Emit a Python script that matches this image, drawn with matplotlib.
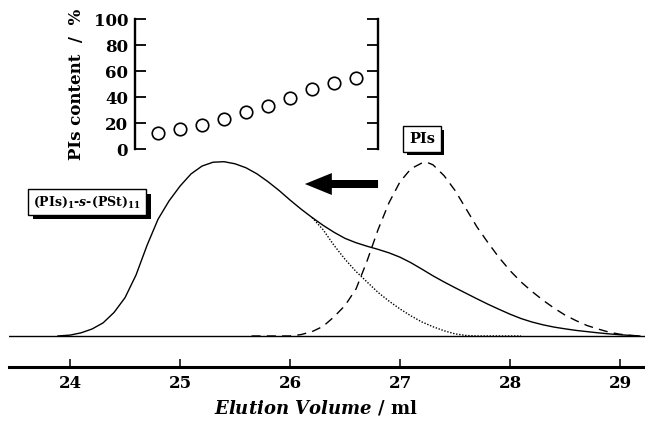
import matplotlib
matplotlib.use("Agg")
import matplotlib.pyplot as plt
import matplotlib.patheffects as pe
from matplotlib.patches import FancyArrow

plt.rcParams['font.family'] = ['DejaVu Serif']
plt.rcParams['font.weight'] = 'bold'
plt.rcParams['mathtext.fontset'] = 'custom'
plt.rcParams['mathtext.rm'] = 'DejaVu Serif:bold'
plt.rcParams['mathtext.bf'] = 'DejaVu Serif:bold'
plt.rcParams['mathtext.it'] = 'DejaVu Serif:italic:bold'

# GPC-Kurven (normiert)
x_solid = [23.89, 24.0, 24.1, 24.2, 24.3, 24.4, 24.5, 24.6, 24.7, 24.8, 24.9, 25.0, 25.1,
           25.2, 25.3, 25.4, 25.5, 25.6, 25.7, 25.8, 25.9, 26.0, 26.1, 26.2, 26.3, 26.4,
           26.5, 26.6, 26.7, 26.8, 26.9, 27.0, 27.1, 27.2, 27.3, 27.4, 27.5, 27.6, 27.7,
           27.8, 27.9, 28.0, 28.1, 28.2, 28.3, 28.4, 28.5, 28.6, 28.7, 28.8, 28.9, 29.0,
           29.1, 29.18]
y_solid = [0.0, 0.005, 0.018, 0.04, 0.075, 0.135, 0.22, 0.35, 0.52, 0.67, 0.775, 0.86, 0.93,
           0.975, 0.997, 1.0, 0.988, 0.965, 0.93, 0.885, 0.835, 0.78, 0.728, 0.68, 0.635, 0.595,
           0.56, 0.535, 0.515, 0.497, 0.477, 0.452, 0.42, 0.383, 0.345, 0.31, 0.277, 0.245, 0.213,
           0.182, 0.153, 0.125, 0.1, 0.08, 0.064, 0.051, 0.041, 0.032, 0.025, 0.018, 0.012, 0.007,
           0.003, 0.0]

x_dot = [26.2, 26.3, 26.4, 26.5, 26.6, 26.7, 26.8, 26.9, 27.0, 27.1, 27.2, 27.3, 27.4, 27.5,
         27.6, 27.7, 28.1]
y_dot = [0.68, 0.61, 0.52, 0.44, 0.37, 0.31, 0.25, 0.2, 0.155, 0.115, 0.08, 0.053, 0.03, 0.012,
         0.003, 0.0, 0.0]

x_dash = [25.65, 26.0, 26.1, 26.2, 26.3, 26.4, 26.5, 26.6, 26.7, 26.8, 26.9, 27.0, 27.1, 27.2,
          27.25, 27.3, 27.4, 27.5, 27.6, 27.7, 27.8, 27.9, 28.0, 28.1, 28.2, 28.3, 28.4, 28.5,
          28.6, 28.7, 28.8, 28.9, 29.0, 29.1, 29.18]
y_dash = [0.0, 0.0, 0.008, 0.025, 0.055, 0.11, 0.175, 0.27, 0.43, 0.61, 0.765, 0.885, 0.96, 0.993,
          0.995, 0.982, 0.92, 0.835, 0.73, 0.625, 0.535, 0.45, 0.375, 0.31, 0.255, 0.205, 0.16,
          0.12, 0.088, 0.06, 0.04, 0.022, 0.01, 0.003, 0.0]

# PIs-Anteil im Inset
x_content = [24.8, 25.0, 25.2, 25.4, 25.6, 25.8, 26.0, 26.2, 26.4, 26.6]
y_content = [12.1, 15.7, 18.8, 23.1, 28.8, 33.4, 39.6, 46.3, 50.7, 54.3]
content_ticks = [0, 20, 40, 60, 80, 100]
volume_ticks = [24, 25, 26, 27, 28, 29]

W, H = 645, 424
fig = plt.figure(figsize=(W / 100, H / 100), dpi=100)

# Hauptachse
ax = fig.add_axes([9 / W, (H - 367) / H, 1 - 9 / W, (367 - 140) / H])
ax.set_xlim(23.445, 29.227)
ax.set_ylim(-0.178, 1.1245)
ax.plot(x_solid, y_solid, color='black', lw=1.0)
ax.plot(x_dot, y_dot, color='black', lw=1.0, ls=(0, (1, 1.2)))
ax.plot(x_dash, y_dash, color='black', lw=1.0, ls=(0, (6.5, 4.5)))
ax.axhline(0, color='black', lw=1.0)
for s in ['left', 'right', 'top']:
    ax.spines[s].set_visible(False)
ax.spines['bottom'].set_linewidth(2.2)
ax.set_yticks([])
ax.set_xticks(volume_ticks)
ax.tick_params(axis='x', direction='in', length=5.8, width=1.1, pad=6, labelsize=12)
for lab in ax.get_xticklabels():
    lab.set_fontweight('bold')

fig.text(0.49, (H - 408) / H, r'$\mathit{Elution\ Volume}$ / ml', ha='center', va='center',
         fontsize=13, fontweight='bold')

# Pfeil
ax.add_patch(FancyArrow(26.8, 0.872, -0.42, 0, width=0.046, head_width=0.126,
                        head_length=0.245, length_includes_head=False,
                        color='black', lw=0))

# Beschriftungskästen
t1 = ax.text(24.155, 0.769, r'$\mathrm{(PIs)}_{1}\text{-}\mathit{s}\text{-}\mathrm{(PSt)}_{11}$',
             ha='center', va='center', fontsize=9,
             bbox=dict(boxstyle='square,pad=0.4', fc='white', ec='black', lw=1.0))
t1.get_bbox_patch().set_path_effects([pe.withSimplePatchShadow(offset=(3.5, -3.5),
                                      shadow_rgbFace='black', alpha=1.0)])
t2 = ax.text(27.2, 1.13, 'PIs', ha='center', va='center', fontsize=10.5, fontweight='bold',
             bbox=dict(boxstyle='square,pad=0.4', fc='white', ec='black', lw=1.0))
t2.get_bbox_patch().set_path_effects([pe.withSimplePatchShadow(offset=(2.5, -2.5),
                                      shadow_rgbFace='black', alpha=1.0)])
t2.set_clip_on(False)

# Inset
ins = fig.add_axes([135 / W, (H - 149) / H, 243 / W, 130 / H])
ins.set_xlim(24.591, 26.8)
ins.set_ylim(0, 100)
ins.plot(x_content, y_content, 'o', ms=9, mfc='white', mec='black', mew=1.2, clip_on=False)
ins.patch.set_alpha(0)
for s in ['top', 'bottom']:
    ins.spines[s].set_visible(False)
for s in ['left', 'right']:
    ins.spines[s].set_linewidth(1.7)
ins.set_xticks([])
ins.set_yticks(content_ticks)
ins.tick_params(axis='y', direction='in', length=8, width=1.3, right=True, pad=5, labelsize=12)
for lab in ins.get_yticklabels():
    lab.set_fontweight('bold')
ins.set_ylabel('PIs content  /  %', fontsize=12, fontweight='bold', labelpad=6)

fig.savefig('out.png', dpi=100)
